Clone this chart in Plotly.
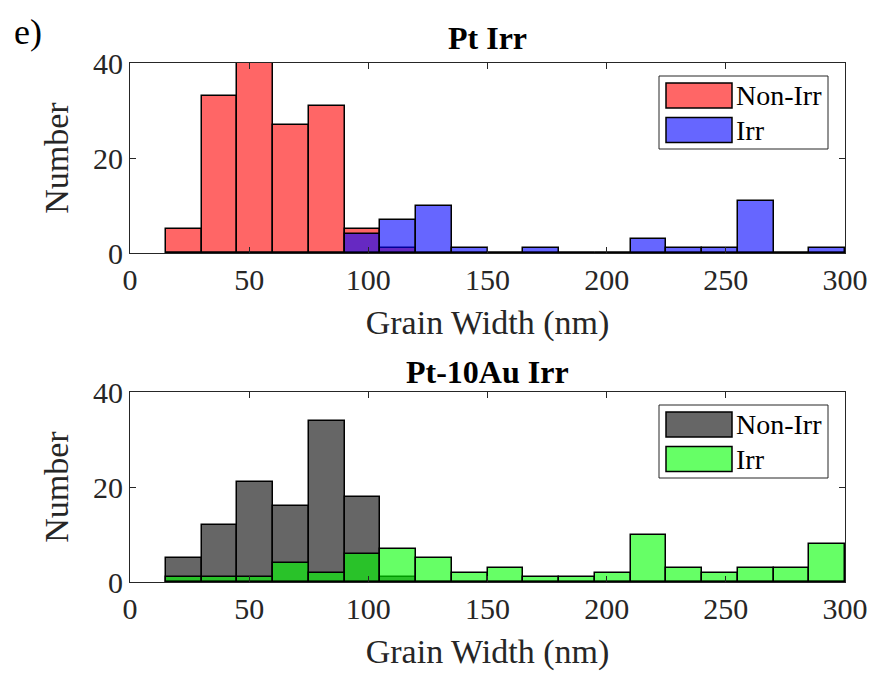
import plotly.graph_objects as go

# ---- data ----
bin_left = [15, 30, 45, 60, 75, 90, 105, 120, 135, 150, 165, 180, 195, 210, 225, 240, 255, 270, 285]
bin_width = 15
pt_nonirr = [5, 33, 40, 27, 31, 5, 1, 0, 0, 0, 0, 0, 0, 0, 0, 0, 0, 0, 0]
pt_irr = [0, 0, 0, 0, 0, 4, 7, 10, 1, 0, 1, 0, 0, 3, 1, 1, 11, 0, 1]
ptau_nonirr = [5, 12, 21, 16, 34, 18, 1, 0, 0, 0, 0, 0, 0, 0, 0, 0, 0, 0, 0]
ptau_irr = [1, 1, 1, 4, 2, 6, 7, 5, 2, 3, 1, 1, 2, 10, 3, 2, 3, 3, 8]
x_ticks = [0, 50, 100, 150, 200, 250, 300]
y_ticks = [0, 20, 40]
titles = ["Pt Irr", "Pt-10Au Irr"]
legend_names = ["Non-Irr", "Irr"]

centers = [b + bin_width / 2 for b in bin_left]

OFF = 8  # page body margin
W, H = 878 - OFF, 675 - OFF
FONT = "Liberation Serif, Times New Roman, serif"
TXT = "#262626"

def px(x):
    return (x - OFF) / W

def py(y):
    return 1 - (y - OFF) / H

colors_top = ["rgba(255,0,0,0.6)", "rgba(0,0,255,0.6)"]
colors_bot = ["rgba(0,0,0,0.6)", "rgba(0,255,0,0.6)"]

fig = go.Figure()
for vals, col, name in [(pt_nonirr, colors_top[0], legend_names[0]), (pt_irr, colors_top[1], legend_names[1])]:
    fig.add_trace(go.Bar(x=centers, y=vals, width=bin_width, name=name, xaxis="x", yaxis="y",
                         marker=dict(color=col, line=dict(color="black", width=1.5)), showlegend=False))
for vals, col, name in [(ptau_nonirr, colors_bot[0], legend_names[0]), (ptau_irr, colors_bot[1], legend_names[1])]:
    fig.add_trace(go.Bar(x=centers, y=vals, width=bin_width, name=name, xaxis="x2", yaxis="y2",
                         marker=dict(color=col, line=dict(color="black", width=1.5)), showlegend=False))

x0, x1 = 130, 845
top_y = (63, 253)
bot_y = (392, 582)

axis_common = dict(showline=True, linecolor=TXT, linewidth=1, mirror="ticks", ticks="inside",
                   ticklen=6, tickcolor=TXT, showgrid=False, zeroline=False, automargin=False,
                   tickfont=dict(family=FONT, size=30, color=TXT))
lab_font = dict(family=FONT, size=34, color=TXT)

fig.update_layout(
    width=W, height=H, margin=dict(l=0, r=0, t=0, b=0),
    paper_bgcolor="white", plot_bgcolor="white", barmode="overlay", bargap=0,
    font=dict(family=FONT, color=TXT),
    xaxis=dict(domain=[px(x0), px(x1)], anchor="y", range=[0, 300], tickvals=x_ticks,
               title=dict(text="Grain Width (nm)", font=lab_font, standoff=15), **axis_common),
    yaxis=dict(domain=[py(top_y[1]), py(top_y[0])], anchor="x", range=[0, 40], tickvals=y_ticks,
               title=dict(text="Number", font=lab_font, standoff=14), **axis_common),
    xaxis2=dict(domain=[px(x0), px(x1)], anchor="y2", range=[0, 300], tickvals=x_ticks,
                title=dict(text="Grain Width (nm)", font=lab_font, standoff=15), **axis_common),
    yaxis2=dict(domain=[py(bot_y[1]), py(bot_y[0])], anchor="x2", range=[0, 40], tickvals=y_ticks,
                title=dict(text="Number", font=lab_font, standoff=14), **axis_common),
)

# titles
for t, yy in zip(titles, [38, 372]):
    fig.add_annotation(text="<b>" + t + "</b>", x=px(487), y=py(yy), xref="paper", yref="paper",
                       xanchor="center", yanchor="middle", showarrow=False,
                       font=dict(family=FONT, size=32, color="black"))
fig.add_annotation(text="e)", x=px(12), y=py(32), xref="paper", yref="paper", xanchor="left",
                   yanchor="middle", showarrow=False, font=dict(family=FONT, size=36, color="black"))

# manual legends
def add_legend(box_top, cols):
    fig.add_shape(type="rect", xref="paper", yref="paper", x0=px(659), x1=px(828),
                  y0=py(box_top + 73), y1=py(box_top), line=dict(color=TXT, width=1), fillcolor="white")
    for i, (col, name) in enumerate(zip(cols, legend_names)):
        t = box_top + 7 + i * 34.5
        fig.add_shape(type="rect", xref="paper", yref="paper", x0=px(666), x1=px(732),
                      y0=py(t + 25), y1=py(t), line=dict(color="black", width=1.5), fillcolor=col)
        fig.add_annotation(text=name, x=px(734), y=py(t + 12.5), xref="paper", yref="paper",
                           xanchor="left", yanchor="middle", showarrow=False,
                           font=dict(family=FONT, size=28, color="black"))

add_legend(76, ["#ff6666", "#6666ff"])
add_legend(405, ["#666666", "#66ff66"])

fig.write_html("out.html")
